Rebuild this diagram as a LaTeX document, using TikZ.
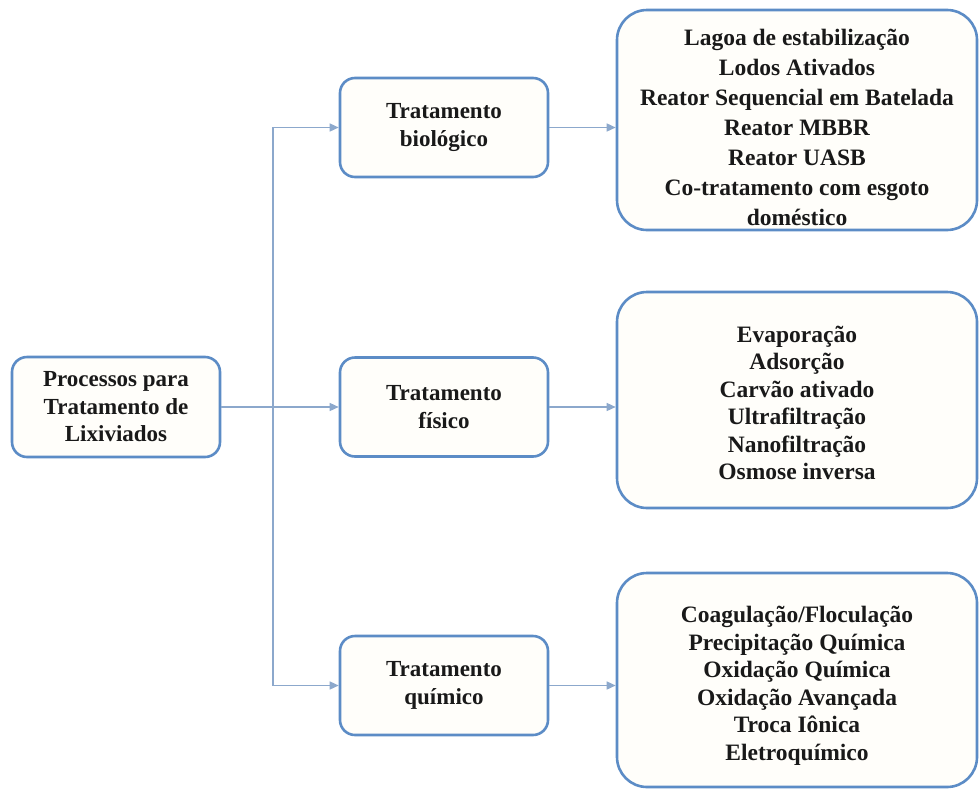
\documentclass[tikz,border=0pt]{standalone}
\usepackage{fontspec}
\setmainfont{Liberation Serif}
\usetikzlibrary{arrows.meta,calc}
\definecolor{boxline}{RGB}{92,140,198}
\definecolor{boxfill}{RGB}{255,254,250}
\definecolor{wire}{RGB}{140,168,204}
\tikzset{
  procbox/.style={draw=boxline, line width=2.6pt, fill=boxfill, rounded corners=15pt,
    align=center, inner sep=0pt, text=black!90,
    font={\fontsize{23}{27.5}\selectfont\bfseries}},
  listbox/.style={draw=boxline, line width=2.6pt, fill=boxfill, rounded corners=30pt,
    inner sep=0pt},
  listtext/.style={align=center, inner sep=0pt, text=black!90,
    font={\fontsize{23.5}{27.5}\selectfont\bfseries}},
  link/.style={draw=wire, line width=1.4pt, -{Triangle[length=9pt,width=8pt]}}
}
\begin{document}
\begin{tikzpicture}[x=1pt,y=-1pt]
  \useasboundingbox (0,0) rectangle (979,790);

  % source node
  \node[procbox, minimum width=208pt, minimum height=100pt] (src) at (116,407)
    {Processos para\\Tratamento de\\Lixiviados};

  % treatment classes
  \node[procbox, minimum width=208pt, minimum height=99pt] (bio) at (444,127.5)
    {Tratamento\\biológico};
  \node[procbox, minimum width=208pt, minimum height=99pt] (fis) at (444,407)
    {Tratamento\\físico};
  \node[procbox, minimum width=208pt, minimum height=99pt] (qui) at (444,685.5)
    {Tratamento\\químico};

  % lists of processes
  \node[listbox, minimum width=360pt, minimum height=220pt] (lbio) at (797,120) {};
  \node[listtext, font={\fontsize{23.5}{30}\selectfont\bfseries}] (tbio) at ($(lbio)+(0,7)$)
    {Lagoa de estabilização\\Lodos Ativados\\Reator Sequencial em Batelada\\Reator MBBR\\Reator UASB\\Co-tratamento com esgoto\\doméstico};
  \node[listbox, minimum width=360pt, minimum height=216pt] (lfis) at (797,400) {};
  \node[listtext] (tfis) at ($(lfis)+(0,3)$)
    {Evaporação\\Adsorção\\Carvão ativado\\Ultrafiltração\\Nanofiltração\\Osmose inversa};
  \node[listbox, minimum width=360pt, minimum height=214pt] (lqui) at (797,680) {};
  \node[listtext] (tqui) at ($(lqui)+(0,6)$)
    {Coagulação/Floculação\\Precipitação Química\\Oxidação Química\\Oxidação Avançada\\Troca Iônica\\Eletroquímico};

  % branching connectors
  \coordinate (split) at (273,407);
  \draw[link] (src.east) -- (fis.west);
  \draw[link] (split) |- (bio.west);
  \draw[link] (split) |- (qui.west);

  \draw[link] (bio.east) -- (bio.east -| lbio.west);
  \draw[link] (fis.east) -- (fis.east -| lfis.west);
  \draw[link] (qui.east) -- (qui.east -| lqui.west);
\end{tikzpicture}
\end{document}
